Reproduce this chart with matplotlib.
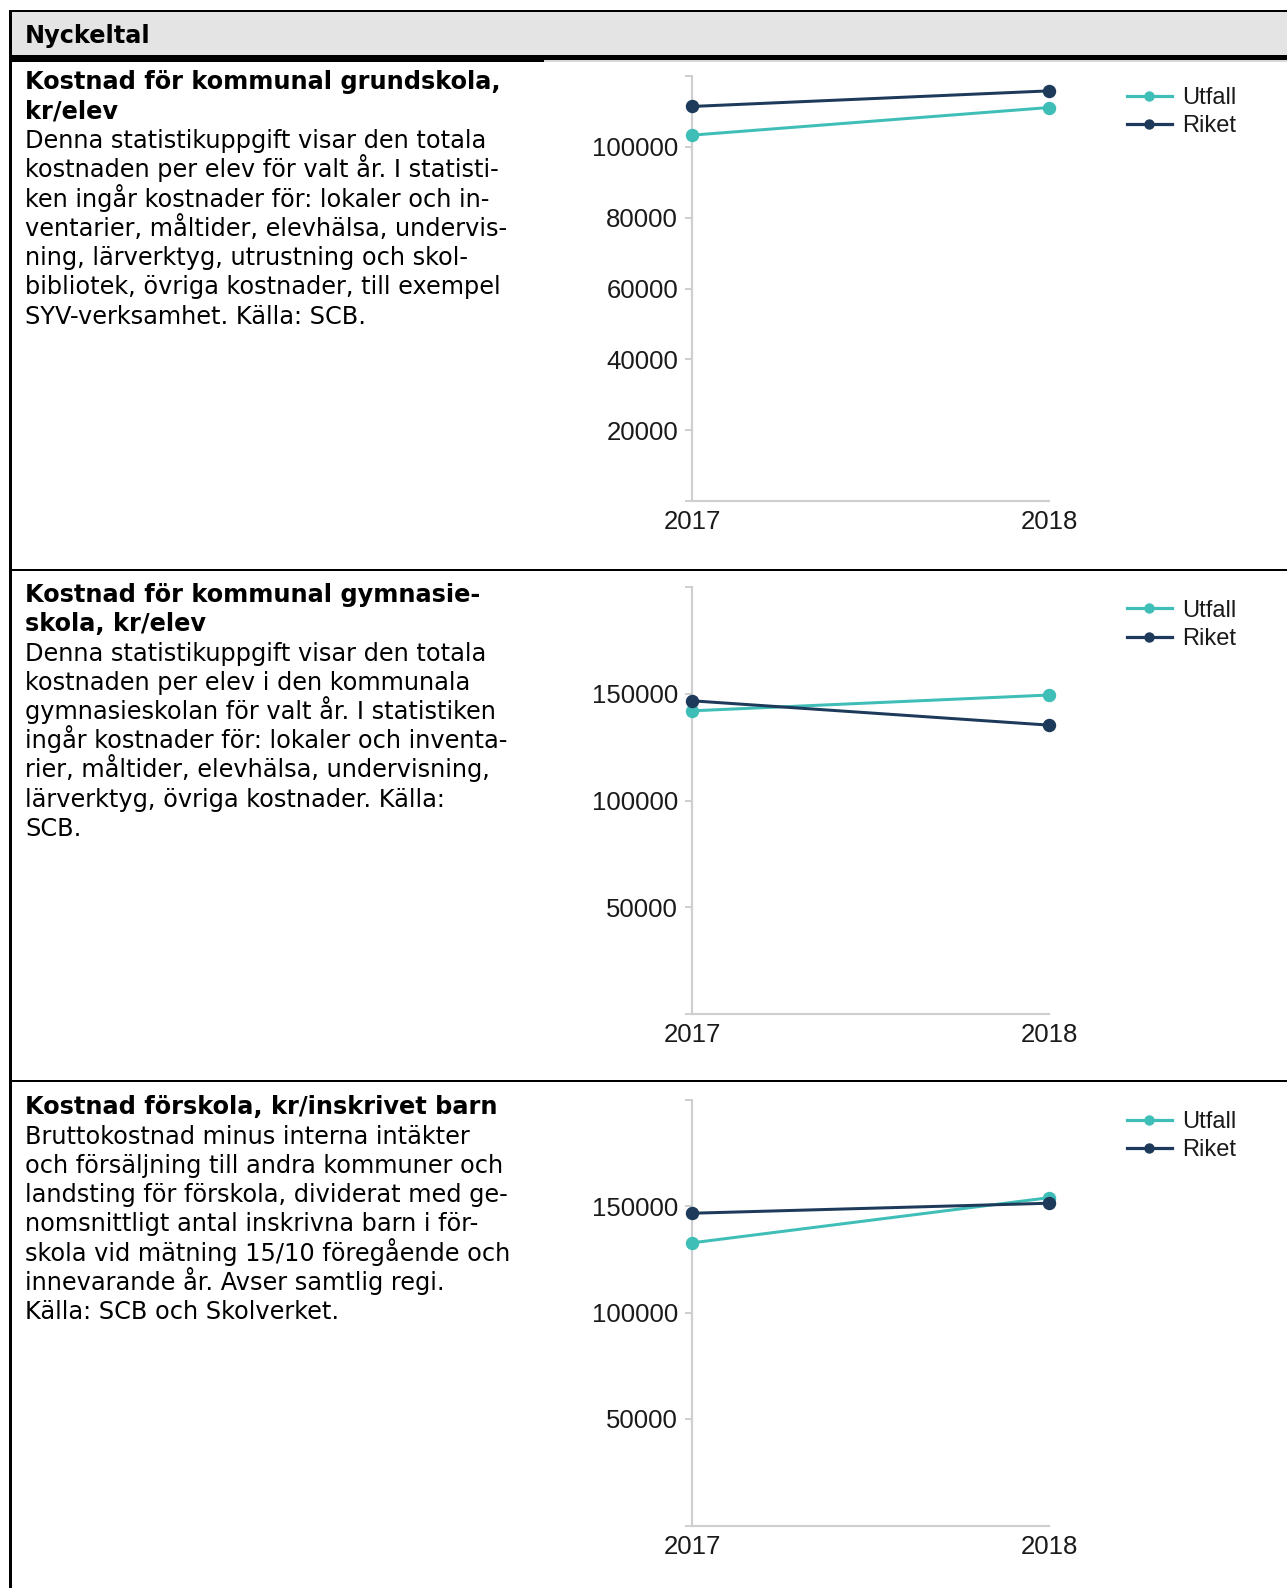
import matplotlib
matplotlib.use("Agg")
import matplotlib.pyplot as plt
from matplotlib.patches import Rectangle

W, H = 1287, 1588
DPI = 100

# ---------------- data ----------------
years = [2017, 2018]
series_names = ["Utfall", "Riket"]

grund_utfall = [103300, 111100]
grund_riket = [111400, 115800]

gymn_utfall = [142000, 149400]
gymn_riket = [146700, 135300]

forskola_utfall = [132700, 153900]
forskola_riket = [146600, 151300]

grund_ticks = [0, 20000, 40000, 60000, 80000, 100000, 120000]
grund_ticklabels = ["", "20000", "40000", "60000", "80000", "100000", ""]
gymn_ticks = [0, 50000, 100000, 150000, 200000]
gymn_ticklabels = ["", "50000", "100000", "150000", ""]

header = "Nyckeltal"

titles = [
    ["Kostnad för kommunal grundskola,", "kr/elev"],
    ["Kostnad för kommunal gymnasie-", "skola, kr/elev"],
    ["Kostnad förskola, kr/inskrivet barn"],
]
bodies = [
    ["Denna statistikuppgift visar den totala",
     "kostnaden per elev för valt år. I statisti-",
     "ken ingår kostnader för: lokaler och in-",
     "ventarier, måltider, elevhälsa, undervis-",
     "ning, lärverktyg, utrustning och skol-",
     "bibliotek, övriga kostnader, till exempel",
     "SYV-verksamhet. Källa: SCB."],
    ["Denna statistikuppgift visar den totala",
     "kostnaden per elev i den kommunala",
     "gymnasieskolan för valt år. I statistiken",
     "ingår kostnader för: lokaler och inventa-",
     "rier, måltider, elevhälsa, undervisning,",
     "lärverktyg, övriga kostnader. Källa:",
     "SCB."],
    ["Bruttokostnad minus interna intäkter",
     "och försäljning till andra kommuner och",
     "landsting för förskola, dividerat med ge-",
     "nomsnittligt antal inskrivna barn i för-",
     "skola vid mätning 15/10 föregående och",
     "innevarande år. Avser samtlig regi.",
     "Källa: SCB och Skolverket."],
]

# ---------------- style ----------------
C_UTFALL = "#3fbeb7"
C_RIKET = "#1d3a5a"
C_AXIS = "#cfcfcf"
C_TICKTXT = "#1a1a1a"
TEXT_FONT = ["DejaVu Sans"]
CHART_FONT = ["Liberation Sans", "DejaVu Sans"]

def px(v):
    return v * 72.0 / DPI  # pixels -> points

fig = plt.figure(figsize=(W / DPI, H / DPI), dpi=DPI)
fig.patch.set_facecolor("white")

# background axes in pixel coordinates
bg = fig.add_axes([0, 0, 1, 1])
bg.set_xlim(0, W)
bg.set_ylim(H, 0)
bg.axis("off")

# header band
bg.add_patch(Rectangle((10, 11), W - 10, 44, facecolor="#e4e4e4", edgecolor="none"))
bg.add_patch(Rectangle((9, 9.5), W - 9, 2.5, facecolor="black", edgecolor="none"))
bg.add_patch(Rectangle((9, 55), W - 9, 5, facecolor="black", edgecolor="none"))
bg.add_patch(Rectangle((9, 60), 535, 2, facecolor="black", edgecolor="none"))
bg.add_patch(Rectangle((544, 60), W - 544, 2, facecolor="#d8d8d8", edgecolor="none"))
# left border
bg.add_patch(Rectangle((9, 9.5), 2.5, H - 9.5, facecolor="black", edgecolor="none"))
# separators
for ysep in (568.5, 1079.5):
    bg.add_patch(Rectangle((9, ysep), W - 9, 2.6, facecolor="black", edgecolor="none"))

FS_TEXT = 17.3
LINE = 29.25
bg.text(25, 35.5, header, family=TEXT_FONT, fontsize=FS_TEXT, fontweight="bold",
        va="center", ha="left", color="black")

first_baselines = [89.5, 602.0, 1114.5]
for p in range(3):
    y = first_baselines[p]
    for line in titles[p]:
        bg.text(25, y, line, family=TEXT_FONT, fontsize=FS_TEXT, fontweight="bold",
                va="baseline", ha="left", color="black")
        y += LINE
    for line in bodies[p]:
        bg.text(25, y, line, family=TEXT_FONT, fontsize=FS_TEXT,
                va="baseline", ha="left", color="black")
        y += LINE

# ---------------- charts ----------------
charts = [
    (grund_utfall, grund_riket, (0, 120000), grund_ticks, grund_ticklabels, 76, 501, 96),
    (gymn_utfall, gymn_riket, (0, 200000), gymn_ticks, gymn_ticklabels, 587, 1014, 608.5),
    (forskola_utfall, forskola_riket, (0, 200000), gymn_ticks, gymn_ticklabels, 1099.5, 1525.5, 1120),
]

X0, X1 = 692, 1049
for utf, rik, ylim, ticks, tlabels, top, bottom, leg_y in charts:
    ax = fig.add_axes([X0 / W, 1 - bottom / H, (X1 - X0) / W, (bottom - top) / H])
    ax.set_facecolor("none")
    ax.plot(years, utf, color=C_UTFALL, lw=px(3), marker="o", ms=px(12),
            clip_on=False, label=series_names[0], zorder=3)
    ax.plot(years, rik, color=C_RIKET, lw=px(3), marker="o", ms=px(12),
            clip_on=False, label=series_names[1], zorder=4)
    ax.set_xlim(years[0], years[1])
    ax.set_ylim(*ylim)
    ax.set_xticks(years)
    ax.set_xticklabels([str(y) for y in years], family=CHART_FONT, fontsize=18.5, color=C_TICKTXT)
    ax.set_yticks(ticks)
    ax.set_yticklabels(tlabels, family=CHART_FONT, fontsize=18.5, color=C_TICKTXT)
    for s in ("top", "right"):
        ax.spines[s].set_visible(False)
    for s in ("left", "bottom"):
        ax.spines[s].set_color(C_AXIS)
        ax.spines[s].set_linewidth(px(2.2))
    ax.tick_params(axis="y", length=px(7), width=px(2), color=C_AXIS, pad=px(7))
    ax.tick_params(axis="x", length=0, pad=px(9))
    leg = ax.legend(loc="upper left",
                    bbox_to_anchor=(1127 / W, 1 - (leg_y - 9) / H),
                    bbox_transform=fig.transFigure,
                    frameon=False, borderpad=0, borderaxespad=0,
                    handlelength=1.9, handletextpad=0.45, labelspacing=0.27,
                    prop={"family": CHART_FONT, "size": 17})
    for t in leg.get_texts():
        t.set_color(C_TICKTXT)
    for h in leg.legend_handles:
        h.set_markersize(px(9))
        h.set_linewidth(px(3.2))

fig.savefig("out.png", dpi=DPI, facecolor="white")
